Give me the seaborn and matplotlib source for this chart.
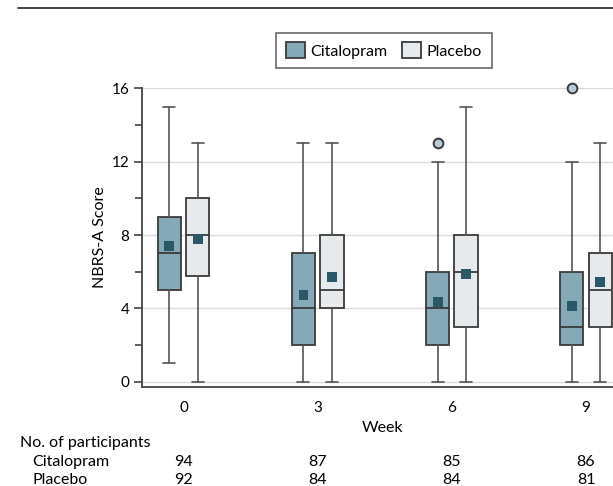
import numpy as np
import pandas as pd
import matplotlib
matplotlib.use("Agg")
import matplotlib.pyplot as plt
from matplotlib.lines import Line2D
from matplotlib.patches import Patch
import matplotlib.transforms as mtransforms
import seaborn as sns

# data (NBRS-A score by week)
weeks = ["0", "3", "6", "9"]
groups = ["Citalopram", "Placebo"]

cit_min = [1, 0, 0, 0]
cit_q1 = [5, 2, 2, 2]
cit_med = [7, 4, 4, 3]
cit_q3 = [9, 7, 6, 6]
cit_max = [15, 13, 12, 12]
cit_mean = [7.4, 4.75, 4.35, 4.13]
cit_out = [[], [], [13], [16]]

pla_min = [0, 0, 0, 0]
pla_q1 = [5.75, 4, 3, 3]
pla_med = [8, 5, 6, 5]
pla_q3 = [10, 8, 8, 7]
pla_max = [13, 13, 15, 13]
pla_mean = [7.8, 5.7, 5.88, 5.42]
pla_out = [[], [], [], []]

n_cit = [94, 87, 85, 86]
n_pla = [92, 84, 84, 81]

cit_color = "#86a9b8"
pla_color = "#e6eaec"
mean_color = "#2b5867"
edge = "#3a3a3a"

sns.set_style("white")
plt.rcParams['font.family'] = ['Lato', 'DejaVu Sans']
plt.rcParams['font.size'] = 10
plt.rcParams['text.color'] = "black"
plt.rcParams['axes.labelcolor'] = "black"
plt.rcParams['xtick.color'] = "black"
plt.rcParams['ytick.color'] = "black"

W, H = 613, 486
fig = plt.figure(figsize=(W / 100, H / 100), dpi=100)
ax = fig.add_axes([141.7 / W, 1 - 386.7 / H, 1 - 141.7 / W, (386.7 - 88.3) / H])

offset = 14.2 / 134.2
box_w = 23.3 / 134.2
cap_w = 12 / 134.2


def make_stats(lo, q1, med, q3, hi, fl):
    return [dict(whislo=a, q1=b, med=c, q3=d, whishi=e, fliers=f)
            for a, b, c, d, e, f in zip(lo, q1, med, q3, hi, fl)]


pos = np.arange(len(weeks))
for stats, shift, color in [
    (make_stats(cit_min, cit_q1, cit_med, cit_q3, cit_max, cit_out), -offset, cit_color),
    (make_stats(pla_min, pla_q1, pla_med, pla_q3, pla_max, pla_out), offset, pla_color),
]:
    ax.bxp(stats, positions=pos + shift, widths=box_w, capwidths=cap_w,
           patch_artist=True, showfliers=True,
           boxprops=dict(facecolor=color, edgecolor=edge, linewidth=1.3),
           medianprops=dict(color=edge, linewidth=1.3),
           whiskerprops=dict(color="#555555", linewidth=1.2),
           capprops=dict(color="#555555", linewidth=1.2),
           flierprops=dict(marker="o", markersize=7, markerfacecolor="#b9ccd5",
                           markeredgecolor=edge, markeredgewidth=1.4, clip_on=False),
           zorder=3)

# mean markers
means = pd.DataFrame({
    "x": np.concatenate([pos - offset, pos + offset]),
    "mean": cit_mean + pla_mean,
    "group": ["Citalopram"] * 4 + ["Placebo"] * 4,
})
sns.scatterplot(data=means, x="x", y="mean", ax=ax, marker="s", s=50,
                color=mean_color, edgecolor="none", legend=False, zorder=5)

ax.set_xlim(-41.8 / 134.2, 3 + (W - 586) / 134.2)
ax.set_ylim(-0.27, 16)
ax.set_xticks(pos)
ax.set_xticklabels(weeks)
ax.set_yticks([0, 4, 8, 12, 16])
ax.set_yticks([2, 6, 10, 14], minor=True)
ax.yaxis.grid(True, color="#dcdcdc", linewidth=1)
ax.set_axisbelow(True)
ax.tick_params(axis="y", which="major", length=6, width=1.2, color="#444444",
               left=True, labelsize=11, pad=3)
ax.tick_params(axis="y", which="minor", length=5, width=1.2, color="#444444", left=True)
ax.tick_params(axis="x", length=0, labelsize=11, pad=10)
for side in ["top", "right"]:
    ax.spines[side].set_visible(False)
for side in ["left", "bottom"]:
    ax.spines[side].set_color("#444444")
    ax.spines[side].set_linewidth(1.3)
ax.set_xlabel("Week", fontsize=11.5, labelpad=8)
ax.set_ylabel("NBRS-A Score", fontsize=11.5)
ax.xaxis.set_label_coords((383 - 141.7) / (W - 141.7), -(428 - 386.7) / (386.7 - 88.3))
ax.xaxis.label.set_va("center")
ax.yaxis.set_label_coords(-(141.7 - 100) / (W - 141.7), 0.5)
ax.yaxis.label.set_va("center")

# participants table
fig.text(20 / W, 1 - 443 / H, "No. of participants", fontsize=11.5, va="center")
trans = mtransforms.blended_transform_factory(ax.transData, fig.transFigure)
for label, counts, y in [("Citalopram", n_cit, 462), ("Placebo", n_pla, 480)]:
    fig.text(32 / W, 1 - y / H, label, fontsize=11.5, va="center")
    for p, n in zip(pos, counts):
        ax.text(p, 1 - y / H, str(n), transform=trans, ha="center", va="center",
                fontsize=11.5)

# legend
handles = [Patch(facecolor=cit_color, edgecolor=edge, linewidth=1.3, label="Citalopram"),
           Patch(facecolor=pla_color, edgecolor=edge, linewidth=1.3, label="Placebo")]
leg = fig.legend(handles=handles, loc="center", bbox_to_anchor=(384 / W, 1 - 50.5 / H),
                 ncol=2, frameon=True, fancybox=False, fontsize=11.5,
                 handlelength=1.2, handleheight=1.15, handletextpad=0.35,
                 columnspacing=0.9, borderpad=0.6)
leg.get_frame().set_edgecolor("#444444")
leg.get_frame().set_linewidth(1.2)

# rule at top of the figure
fig.add_artist(Line2D([18 / W, 1], [1 - 8 / H, 1 - 8 / H], color="#222222", linewidth=1.2))

fig.savefig("out.png", dpi=100)
